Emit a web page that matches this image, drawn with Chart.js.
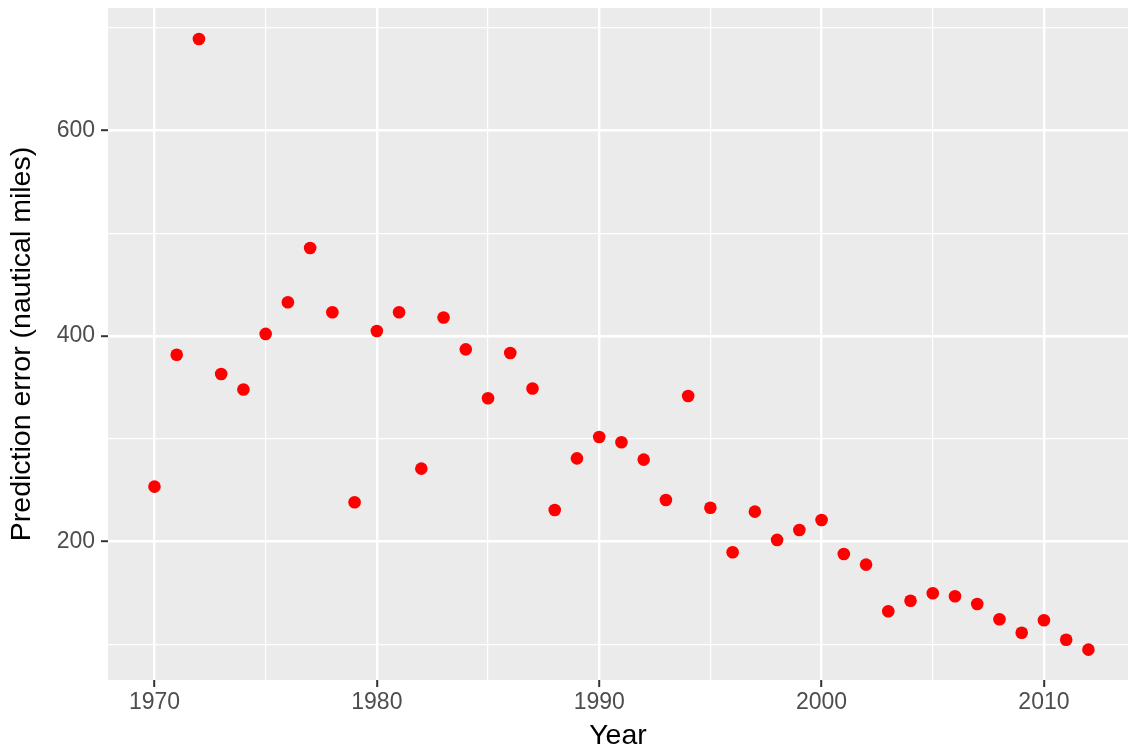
<!DOCTYPE html>
<html>
<head>
<meta charset="utf-8">
<script src="https://cdn.jsdelivr.net/npm/chart.js@4"></script>
<style>
  html, body { margin: 0; padding: 0; background: #fff; }
  #wrap { width: 1128px; height: 753px; position: relative; }
</style>
</head>
<body>
<div id="wrap"><canvas id="c"></canvas></div>
<script>
// Year of forecast and mean prediction error (nautical miles)
const years = [1970, 1971, 1972, 1973, 1974, 1975, 1976, 1977, 1978, 1979,
               1980, 1981, 1982, 1983, 1984, 1985, 1986, 1987, 1988, 1989,
               1990, 1991, 1992, 1993, 1994, 1995, 1996, 1997, 1998, 1999,
               2000, 2001, 2002, 2003, 2004, 2005, 2006, 2007, 2008, 2009,
               2010, 2011, 2012];
const errors = [253.5, 381.8, 688.8, 363, 348, 402, 432.8, 485.6, 423, 238.3,
                404.9, 423, 271, 418, 387, 339.4, 383.5, 349, 230.8, 281,
                301.8, 296.6, 279.8, 240.5, 341.7, 233, 189.7, 229.2, 201.7, 211.4,
                221.1, 188, 177.7, 132.3, 142.6, 149.8, 146.9, 139.4, 124.6, 111.5,
                123.6, 104.7, 95];

const xMajorTicks = [1970, 1980, 1990, 2000, 2010];
const yMajorTicks = [200, 400, 600];

const FONT = '"Liberation Sans", Arial, Helvetica, sans-serif';

// Grey panel behind the plot, ggplot style
const panelPlugin = {
    id: 'panel',
    beforeDraw: (chart) => {
        const {ctx, chartArea} = chart;
        if (!chartArea) return;
        ctx.save();
        ctx.fillStyle = '#EBEBEB';
        ctx.fillRect(chartArea.left, chartArea.top,
                     chartArea.right - chartArea.left, chartArea.bottom - chartArea.top);
        ctx.restore();
    }
};

// fixed axis sizes, no extra room for overhanging labels
function fixX(scale) {
    scale.height = 73;
    scale.paddingLeft = 0;
    scale.paddingRight = 0;
}
function fixY(scale) {
    scale.width = 108;
    scale.paddingTop = 0;
    scale.paddingBottom = 0;
}

const points = years.map((y, i) => ({ x: y, y: errors[i] }));

new Chart(document.getElementById('c'), {
    type: 'scatter',
    data: {
        datasets: [{
            label: 'error',
            data: points,
            backgroundColor: '#FF0000',
            borderWidth: 0,
            pointRadius: 6.3,
            pointHoverRadius: 6.3
        }]
    },
    options: {
        responsive: true,
        maintainAspectRatio: false,
        animation: false,
        layout: { autoPadding: false, padding: { top: 8, right: 0, left: 0, bottom: 0 } },
        scales: {
            x: {
                type: 'linear',
                min: 1967.91,
                max: 2013.78,
                afterFit: fixX,
                border: { display: false },
                grid: {
                    color: '#FFFFFF',
                    lineWidth: (c) => xMajorTicks.includes(c.tick && c.tick.value) ? 2.4 : 1.2,
                    tickLength: 7,
                    tickWidth: 2,
                    tickColor: (c) => xMajorTicks.includes(c.tick && c.tick.value) ? '#333333' : 'rgba(0,0,0,0)'
                },
                ticks: {
                    stepSize: 5,
                    includeBounds: false,
                    autoSkip: false,
                    maxRotation: 0,
                    padding: 2,
                    color: '#4D4D4D',
                    font: { family: FONT, size: 23 },
                    callback: (v) => xMajorTicks.includes(v) ? String(v) : ''
                },
                title: {
                    display: true,
                    text: 'Year',
                    color: '#000000',
                    font: { family: FONT, size: 28.5 },
                    padding: { top: 0, bottom: 0 }
                }
            },
            y: {
                min: 65.5,
                max: 718.9,
                afterFit: fixY,
                border: { display: false },
                grid: {
                    color: '#FFFFFF',
                    lineWidth: (c) => yMajorTicks.includes(c.tick && c.tick.value) ? 2.4 : 1.2,
                    tickLength: 7,
                    tickWidth: 2,
                    tickColor: (c) => yMajorTicks.includes(c.tick && c.tick.value) ? '#333333' : 'rgba(0,0,0,0)'
                },
                ticks: {
                    stepSize: 100,
                    includeBounds: false,
                    autoSkip: false,
                    padding: 6,
                    color: '#4D4D4D',
                    font: { family: FONT, size: 23 },
                    callback: (v) => yMajorTicks.includes(v) ? String(v) : ''
                },
                title: {
                    display: true,
                    text: 'Prediction error (nautical miles)',
                    color: '#000000',
                    font: { family: FONT, size: 28.5 },
                    padding: { top: 5, bottom: 0 }
                }
            }
        },
        plugins: {
            legend: { display: false },
            tooltip: { enabled: false }
        }
    },
    plugins: [panelPlugin]
});
</script>
</body>
</html>
